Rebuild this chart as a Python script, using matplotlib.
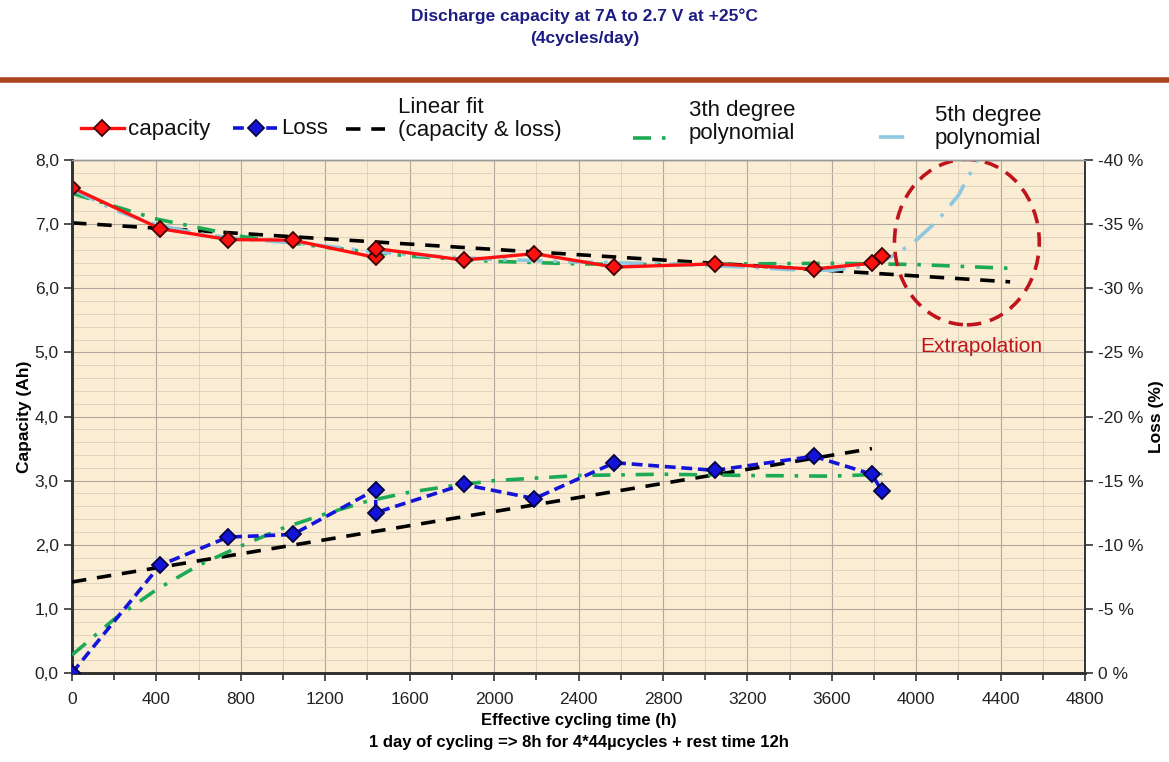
import matplotlib.pyplot as plt
import numpy as np
from matplotlib.patches import Ellipse
from matplotlib.lines import Line2D
from matplotlib.ticker import MultipleLocator, FixedLocator

plt.rcParams['font.family'] = ['Liberation Sans', 'DejaVu Sans']

# measured points (hours, Ah) and loss in %
hours = [0, 417, 739, 1046, 1439, 1439, 1855, 2191, 2570, 3047, 3514, 3790, 3837]
capacity = [7.57, 6.93, 6.76, 6.75, 6.48, 6.62, 6.44, 6.54, 6.33, 6.38, 6.30, 6.39, 6.50]
loss = [0.0, -8.4, -10.6, -10.8, -14.3, -12.5, -14.7, -13.6, -16.4, -15.8, -16.9, -15.5, -14.2]

# linear fits (end points)
cap_lin_x = [0, 4445]
cap_lin_y = [7.02, 6.10]
loss_lin_x = [0, 3790]
loss_lin_y = [-7.1, -17.5]

# 3rd degree polynomial trend lines
cap_p3_x = [0, 400, 800, 1200, 1600, 2000, 2400, 2800, 3200, 3600, 4000, 4450]
cap_p3_y = [7.48, 7.08, 6.81, 6.64, 6.50, 6.42, 6.38, 6.37, 6.38, 6.39, 6.37, 6.31]
loss_p3_x = [0, 200, 400, 600, 800, 1000, 1200, 1400, 1600, 1800, 2000, 2400, 2800, 3200, 3600, 3840]
loss_p3_y = [-1.4, -4.2, -6.5, -8.4, -9.9, -11.3, -12.4, -13.4, -14.1, -14.6, -15.0, -15.4, -15.5, -15.4, -15.35, -15.5]

# 5th degree polynomial (capacity) incl. extrapolation
cap_p5_x = [0, 200, 400, 600, 800, 1000, 1200, 1400, 1600, 2000, 2400, 2800, 3200, 3400, 3600, 3800, 3900, 4000, 4100, 4200, 4290]
cap_p5_y = [7.55, 7.22, 6.99, 6.85, 6.77, 6.72, 6.66, 6.58, 6.52, 6.45, 6.41, 6.38, 6.33, 6.29, 6.28, 6.36, 6.52, 6.75, 7.05, 7.45, 8.0]

x_ticks = list(range(0, 4801, 400))
cap_ticks = [0, 1, 2, 3, 4, 5, 6, 7, 8]
loss_ticks = [0, -5, -10, -15, -20, -25, -30, -35, -40]

legend_labels = ['capacity', 'Loss', 'Linear fit\n(capacity & loss)',
                 '3th degree\npolynomial', '5th degree\npolynomial']

RED = '#FF1010'
BLUE = '#1414D8'
GREEN = '#1DAA55'
LBLUE = '#8CC8E0'
DARKRED = '#C0141C'

styles = [
    dict(color=RED, lw=2.4, marker='D', ms=8, mfc=RED, mec='#400000', mew=1.3),
    dict(color=BLUE, lw=2.6, ls=(0, (3, 1.6)), marker='D', ms=8, mfc=BLUE, mec='#000040', mew=1.3),
    dict(color='black', lw=2.6, ls=(0, (4, 3))),
    dict(color=GREEN, lw=2.6, ls=(0, (5, 3, 1, 3))),
    dict(color=LBLUE, lw=2.6, ls=(0, (7, 3, 1, 3))),
]

fig = plt.figure(figsize=(11.69, 7.62), dpi=100)
ax = fig.add_axes([0.0616, 0.1168, 0.8666, 0.6732])
ax.set_facecolor('#FBEDD3')
ax2 = ax.twinx()

ax.set_xlim(0, 4800)
ax.set_ylim(0, 8)
ax2.set_ylim(0, -40)

ax.xaxis.set_major_locator(FixedLocator(x_ticks))
ax.xaxis.set_minor_locator(MultipleLocator(200))
ax.yaxis.set_major_locator(FixedLocator(cap_ticks))
ax.yaxis.set_minor_locator(MultipleLocator(0.2))
ax.set_yticklabels([f'{v:.1f}'.replace('.', ',') for v in cap_ticks])
ax2.yaxis.set_major_locator(FixedLocator(loss_ticks))
ax2.set_yticklabels([f'{v} %' for v in loss_ticks])

ax.grid(which='major', color='#B0A89C', lw=0.8)
ax.grid(which='minor', color='#DDD0BA', lw=0.6)
ax.set_axisbelow(True)

ax.tick_params(axis='both', which='major', direction='out', length=6, width=1.2,
               labelsize=12.5, color='#333333', labelcolor='#222222')
ax.tick_params(axis='x', which='minor', direction='out', length=5, width=1.2, color='#333333')
ax.tick_params(axis='y', which='minor', length=0)
ax2.tick_params(axis='y', direction='out', length=6, width=1.2, labelsize=12.5,
                color='#333333', labelcolor='#222222')
ax.tick_params(axis='x', pad=8)

for a in (ax, ax2):
    a.spines['left'].set_color('#333333')
    a.spines['left'].set_linewidth(2)
    a.spines['bottom'].set_color('#333333')
    a.spines['bottom'].set_linewidth(2)
    a.spines['right'].set_color('#333333')
    a.spines['right'].set_linewidth(1.2)
    a.spines['top'].set_color('#999999')
    a.spines['top'].set_linewidth(1)

# trend lines
ax.plot(cap_lin_x, cap_lin_y, zorder=3, **styles[2])
ax2.plot(loss_lin_x, loss_lin_y, zorder=3, **styles[2])
ax.plot(cap_p3_x, cap_p3_y, zorder=3, **styles[3])
ax2.plot(loss_p3_x, loss_p3_y, zorder=3, **styles[3])
ax.plot(cap_p5_x, cap_p5_y, zorder=3, **styles[4])

# measured series
ax.plot(hours, capacity, zorder=5, **styles[0])
ax2.plot(hours, loss, zorder=5, **styles[1])

# extrapolation marker
ax.add_patch(Ellipse((4240, 6.72), width=686, height=2.58, fill=False,
                     edgecolor=DARKRED, lw=2.6, ls=(0, (4, 2.5)), zorder=6))
ax.text(4308, 5.09, 'Extrapolation', color=DARKRED, fontsize=15,
        ha='center', va='center', zorder=6)

ax.set_ylabel('Capacity (Ah)', fontsize=12.5, fontweight='bold', labelpad=2)
ax2.set_ylabel('Loss (%)', fontsize=12.5, fontweight='bold', rotation=90, labelpad=4)
ax.set_xlabel('Effective cycling time (h)\n1 day of cycling => 8h for 4*44µcycles + rest time 12h',
              fontsize=12, fontweight='bold', labelpad=4, linespacing=1.55)
ax2.set_zorder(ax.get_zorder() + 1)
ax2.patch.set_visible(False)

fig.text(0.5, 0.989, 'Discharge capacity at 7A to 2.7 V at +25°C\n(4cycles/day)',
         ha='center', va='top', fontsize=12.5, fontweight='bold', color='#1C1C84',
         linespacing=1.6)
fig.add_artist(Line2D([0, 1], [0.895, 0.895], transform=fig.transFigure,
                      color='#A8441C', lw=4))

# legend drawn by hand (Excel-like spacing, handle level with last text line)
W, H = 1169, 762
handle_x = [(81, 124), (233, 279), (346, 385), (633, 672), (879, 914)]
handle_y = [128, 128, 129, 138, 137]
text_x = [128, 281, 398, 689, 935]
text_y = [129, 129, 119, 122, 127]
for i, label in enumerate(legend_labels):
    x0, x1 = handle_x[i]
    st = dict(styles[i])
    mk = {k: st.pop(k) for k in ['marker', 'ms', 'mfc', 'mec', 'mew'] if k in st}
    yy = 1 - handle_y[i] / H
    fig.add_artist(Line2D([x0 / W, x1 / W], [yy, yy], transform=fig.transFigure, **st))
    if mk:
        fig.add_artist(Line2D([(x0 + x1) / 2 / W], [yy], transform=fig.transFigure,
                              color=st['color'], ls='none', marker=mk['marker'],
                              ms=mk['ms'], mfc=mk['mfc'], mec=mk['mec'], mew=mk['mew']))
    fig.text(text_x[i] / W, 1 - text_y[i] / H, label, fontsize=16, ha='left',
             va='center', linespacing=1.12, color='#111111')

fig.savefig('out.png', dpi=100)
